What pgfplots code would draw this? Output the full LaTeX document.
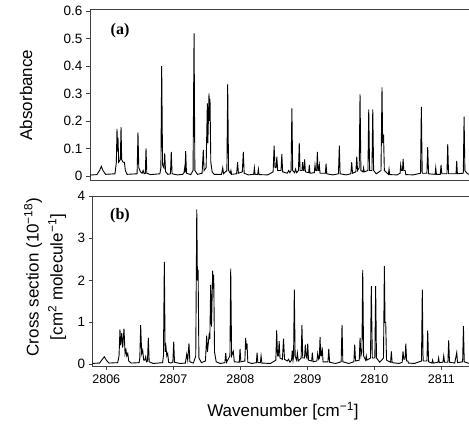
\documentclass[border=0pt]{standalone}
\usepackage{pgfplots}
\pgfplotsset{compat=1.18}
\usepackage{fontspec}
\setmainfont{Liberation Sans}
\newfontfamily\panelfont{Liberation Serif}

\begin{document}
\begin{tikzpicture}
\pgfplotsset{
  spec/.style={
    scale only axis,
    width=385bp,
    xmin=2805.797, xmax=2811.543,
    axis line style={line width=0.9bp, black!75},
    tick style={line width=0.8bp, black!75},
    tick align=outside,
    major tick length=4bp,
    ytick pos=left, xtick pos=bottom,
    yticklabel style={font=\fontsize{13.5bp}{15bp}\selectfont},
    xticklabel style={font=\fontsize{12.5bp}{14bp}\selectfont},
    /pgf/number format/assume math mode=true,
    clip=true,
  },
}
% panel (a): absorbance
\begin{axis}[spec,
  at={(90bp,-180bp)}, anchor=south west,
  height=171bp,
  ymin=-0.0146, ymax=0.6073,
  ytick={0,0.1,0.2,0.3,0.4,0.5,0.6},
  yticklabels={0,0.1,0.2,0.3,0.4,0.5,0.6},
  xtick=\empty,
]
\addplot[black, line width=0.9bp] coordinates {
(2805.77,0.003)
(2805.90,0.005)(2805.94,0.02)(2805.966,0.035)(2805.99,0.02)(2806.03,0.006)
(2806.17,0.008)(2806.19,0.05)(2806.20,0.171)(2806.208,0.09)(2806.215,0.14)(2806.225,0.05)(2806.25,0.06)(2806.26,0.178)(2806.27,0.06)(2806.29,0.05)(2806.31,0.05)(2806.325,0.02)(2806.35,0.006)
(2806.50,0.008)(2806.513,0.159)(2806.525,0.03)(2806.55,0.015)(2806.575,0.01)(2806.59,0.02)(2806.605,0.008)(2806.623,0.01)(2806.633,0.10)(2806.645,0.01)(2806.70,0.005)
(2806.84,0.008)(2806.855,0.03)(2806.867,0.40)(2806.88,0.04)(2806.90,0.03)(2806.912,0.082)(2806.925,0.015)(2806.96,0.006)
(2806.998,0.008)(2807.01,0.088)(2807.022,0.008)(2807.10,0.004)
(2807.18,0.006)(2807.2,0.012)(2807.21,0.03)(2807.215,0.012)(2807.225,0.09)(2807.237,0.01)(2807.30,0.005)
(2807.335,0.02)(2807.35,0.519)(2807.362,0.02)(2807.40,0.006)
(2807.47,0.01)(2807.488,0.095)(2807.50,0.02)(2807.53,0.03)(2807.548,0.264)(2807.556,0.12)(2807.573,0.30)(2807.58,0.2)(2807.588,0.28)(2807.60,0.05)(2807.62,0.015)(2807.65,0.006)
(2807.76,0.006)(2807.778,0.03)(2807.79,0.008)(2807.84,0.02)(2807.852,0.333)(2807.865,0.02)(2807.89,0.01)(2807.90,0.02)(2807.91,0.006)
(2807.985,0.008)(2808.0,0.05)(2808.012,0.01)(2808.07,0.015)(2808.085,0.088)(2808.098,0.01)(2808.16,0.004)
(2808.24,0.006)(2808.25,0.03)(2808.26,0.006)(2808.30,0.006)(2808.31,0.025)(2808.32,0.005)(2808.45,0.004)
(2808.53,0.015)(2808.545,0.11)(2808.558,0.03)(2808.575,0.03)(2808.585,0.07)(2808.598,0.02)(2808.648,0.02)(2808.66,0.08)(2808.672,0.015)(2808.74,0.01)(2808.763,0.02)(2808.78,0.012)(2808.798,0.02)(2808.81,0.246)(2808.822,0.02)(2808.85,0.012)(2808.865,0.025)(2808.88,0.012)(2808.908,0.02)(2808.92,0.12)(2808.932,0.02)(2808.96,0.02)(2808.97,0.05)(2808.98,0.02)(2808.99,0.02)(2809.0,0.06)(2809.012,0.015)(2809.06,0.012)(2809.07,0.04)(2809.08,0.01)(2809.145,0.012)(2809.155,0.04)(2809.165,0.02)(2809.18,0.02)(2809.19,0.088)(2809.2,0.02)(2809.21,0.02)(2809.22,0.04)(2809.23,0.01)(2809.31,0.01)(2809.32,0.045)(2809.33,0.008)(2809.42,0.004)
(2809.505,0.008)(2809.518,0.11)(2809.53,0.008)(2809.62,0.004)
(2809.69,0.008)(2809.703,0.05)(2809.715,0.01)(2809.765,0.015)(2809.778,0.07)(2809.79,0.02)(2809.815,0.03)(2809.827,0.297)(2809.84,0.02)(2809.87,0.015)(2809.88,0.03)(2809.89,0.015)(2809.945,0.02)(2809.957,0.242)(2809.97,0.02)(2810.005,0.02)(2810.017,0.242)(2810.03,0.02)(2810.07,0.008)
(2810.14,0.02)(2810.155,0.322)(2810.165,0.12)(2810.178,0.15)(2810.19,0.02)(2810.25,0.006)(2810.26,0.025)(2810.27,0.005)(2810.38,0.004)
(2810.425,0.01)(2810.434,0.04)(2810.445,0.02)(2810.46,0.02)(2810.47,0.062)(2810.48,0.02)(2810.5,0.02)(2810.51,0.005)(2810.62,0.004)
(2810.73,0.01)(2810.742,0.251)(2810.755,0.01)(2810.825,0.01)(2810.837,0.105)(2810.85,0.008)(2810.947,0.006)(2810.957,0.03)(2810.967,0.006)(2811.025,0.006)(2811.036,0.04)(2811.047,0.008)(2811.124,0.008)(2811.136,0.116)(2811.148,0.008)(2811.26,0.008)(2811.27,0.055)(2811.28,0.008)(2811.368,0.01)(2811.38,0.216)(2811.392,0.02)(2811.43,0.008)(2811.5,0.004)
};
\end{axis}

% panel (b): cross section
\begin{axis}[spec,
  at={(92.7bp,-366bp)}, anchor=south west,
  height=170bp,
  ymin=-0.04, ymax=4.007,
  ytick={0,1,2,3,4},
  xtick={2806,2807,2808,2809,2810,2811},
  xticklabels={2806,2807,2808,2809,2810,2811},
  xticklabel style={yshift=-1bp},
]
\addplot[black, line width=0.9bp] coordinates {
(2805.77,0.02)(2805.9,0.03)(2805.94,0.12)(2805.97,0.18)(2806.0,0.1)(2806.04,0.03)
(2806.17,0.04)(2806.19,0.2)(2806.204,0.83)(2806.215,0.45)(2806.23,0.74)(2806.245,0.4)(2806.264,0.85)(2806.28,0.25)(2806.294,0.34)(2806.305,0.2)(2806.32,0.26)(2806.335,0.08)(2806.37,0.03)
(2806.49,0.04)(2806.5,0.15)(2806.513,0.93)(2806.528,0.25)(2806.543,0.34)(2806.558,0.1)(2806.575,0.1)(2806.588,0.18)(2806.6,0.06)(2806.615,0.08)(2806.627,0.63)(2806.64,0.06)(2806.70,0.02)
(2806.84,0.04)(2806.853,0.2)(2806.866,2.44)(2806.878,0.3)(2806.89,0.42)(2806.903,0.2)(2806.916,0.26)(2806.93,0.05)(2806.96,0.03)(2806.993,0.05)(2807.006,0.54)(2807.018,0.05)(2807.10,0.02)
(2807.18,0.03)(2807.2,0.24)(2807.215,0.1)(2807.234,0.50)(2807.247,0.06)(2807.30,0.03)(2807.335,0.2)(2807.35,3.69)(2807.36,2.0)(2807.37,2.25)(2807.382,0.15)(2807.42,0.04)
(2807.48,0.08)(2807.498,0.68)(2807.51,0.3)(2807.537,0.74)(2807.545,0.6)(2807.558,1.89)(2807.57,0.9)(2807.588,2.23)(2807.595,1.8)(2807.603,2.13)(2807.615,0.3)(2807.64,0.06)(2807.70,0.02)
(2807.77,0.04)(2807.782,0.27)(2807.795,0.05)(2807.845,0.2)(2807.857,2.28)(2807.87,0.2)(2807.896,0.31)(2807.91,0.06)(2807.985,0.05)(2807.996,0.37)(2808.008,0.06)(2808.068,0.08)(2808.08,0.63)(2808.09,0.35)(2808.1,0.5)(2808.112,0.05)(2808.17,0.02)
(2808.24,0.04)(2808.25,0.28)(2808.262,0.04)(2808.3,0.04)(2808.31,0.2)(2808.322,0.03)(2808.45,0.02)
(2808.53,0.1)(2808.543,0.81)(2808.555,0.2)(2808.568,0.2)(2808.58,0.55)(2808.592,0.15)(2808.628,0.12)(2808.645,0.61)(2808.66,0.12)(2808.7,0.08)(2808.72,0.12)(2808.74,0.05)(2808.765,0.1)(2808.775,0.33)(2808.787,0.1)(2808.795,0.2)(2808.806,1.78)(2808.818,0.2)(2808.84,0.1)(2808.852,0.27)(2808.865,0.08)(2808.908,0.15)(2808.92,0.93)(2808.932,0.15)(2808.958,0.15)(2808.97,0.47)(2808.982,0.2)(2808.994,0.15)(2809.006,0.49)(2809.018,0.1)(2809.065,0.08)(2809.075,0.28)(2809.087,0.06)(2809.143,0.08)(2809.155,0.26)(2809.17,0.12)(2809.18,0.15)(2809.19,0.65)(2809.2,0.2)(2809.21,0.2)(2809.222,0.4)(2809.235,0.06)(2809.308,0.06)(2809.32,0.37)(2809.333,0.05)(2809.42,0.02)
(2809.505,0.06)(2809.518,0.94)(2809.53,0.06)(2809.62,0.02)
(2809.695,0.06)(2809.707,0.47)(2809.72,0.08)(2809.775,0.1)(2809.787,0.63)(2809.8,0.2)(2809.815,0.3)(2809.827,2.25)(2809.84,0.2)(2809.87,0.1)(2809.88,0.2)(2809.89,0.1)(2809.943,0.15)(2809.955,1.86)(2809.97,0.15)(2810.008,0.15)(2810.02,1.86)(2810.032,0.15)(2810.08,0.05)
(2810.137,0.15)(2810.15,2.34)(2810.16,1.0)(2810.17,1.0)(2810.182,0.1)(2810.243,0.05)(2810.254,0.31)(2810.266,0.04)(2810.37,0.02)
(2810.416,0.05)(2810.428,0.31)(2810.44,0.12)(2810.458,0.12)(2810.47,0.49)(2810.482,0.08)(2810.5,0.08)(2810.51,0.03)(2810.6,0.02)
(2810.704,0.08)(2810.716,1.78)(2810.728,0.08)(2810.785,0.08)(2810.797,0.81)(2810.81,0.06)(2810.86,0.03)(2810.87,0.1)(2810.88,0.03)(2810.95,0.05)(2810.96,0.15)(2810.97,0.04)(2811.024,0.05)(2811.036,0.2)(2811.048,0.05)(2811.098,0.05)(2811.11,0.57)(2811.122,0.05)(2811.2,0.03)(2811.23,0.28)(2811.242,0.04)(2811.318,0.06)(2811.33,0.91)(2811.342,0.06)(2811.4,0.03)(2811.45,0.02)
};
\end{axis}

% labels
\node[font=\panelfont\bfseries\fontsize{16bp}{18bp}\selectfont] at (120bp,-31bp) {(a)};
\node[font=\panelfont\bfseries\fontsize{16bp}{18bp}\selectfont] at (120bp,-216bp) {(b)};
\node[rotate=90, font=\fontsize{17bp}{20bp}\selectfont] at (26bp,-95bp) {Absorbance};
\node[rotate=90, align=center, font=\fontsize{17bp}{24bp}\selectfont] at (45bp,-277bp)
  {Cross section (10\textsuperscript{−18})\\{}[cm\textsuperscript{2} molecule\textsuperscript{−1}]};
\node[font=\fontsize{17bp}{20bp}\selectfont] at (283bp,-411bp) {Wavenumber [cm\textsuperscript{−1}]};

\pgfresetboundingbox
\useasboundingbox (0,0) rectangle (469bp,-427bp);
\end{tikzpicture}
\end{document}
